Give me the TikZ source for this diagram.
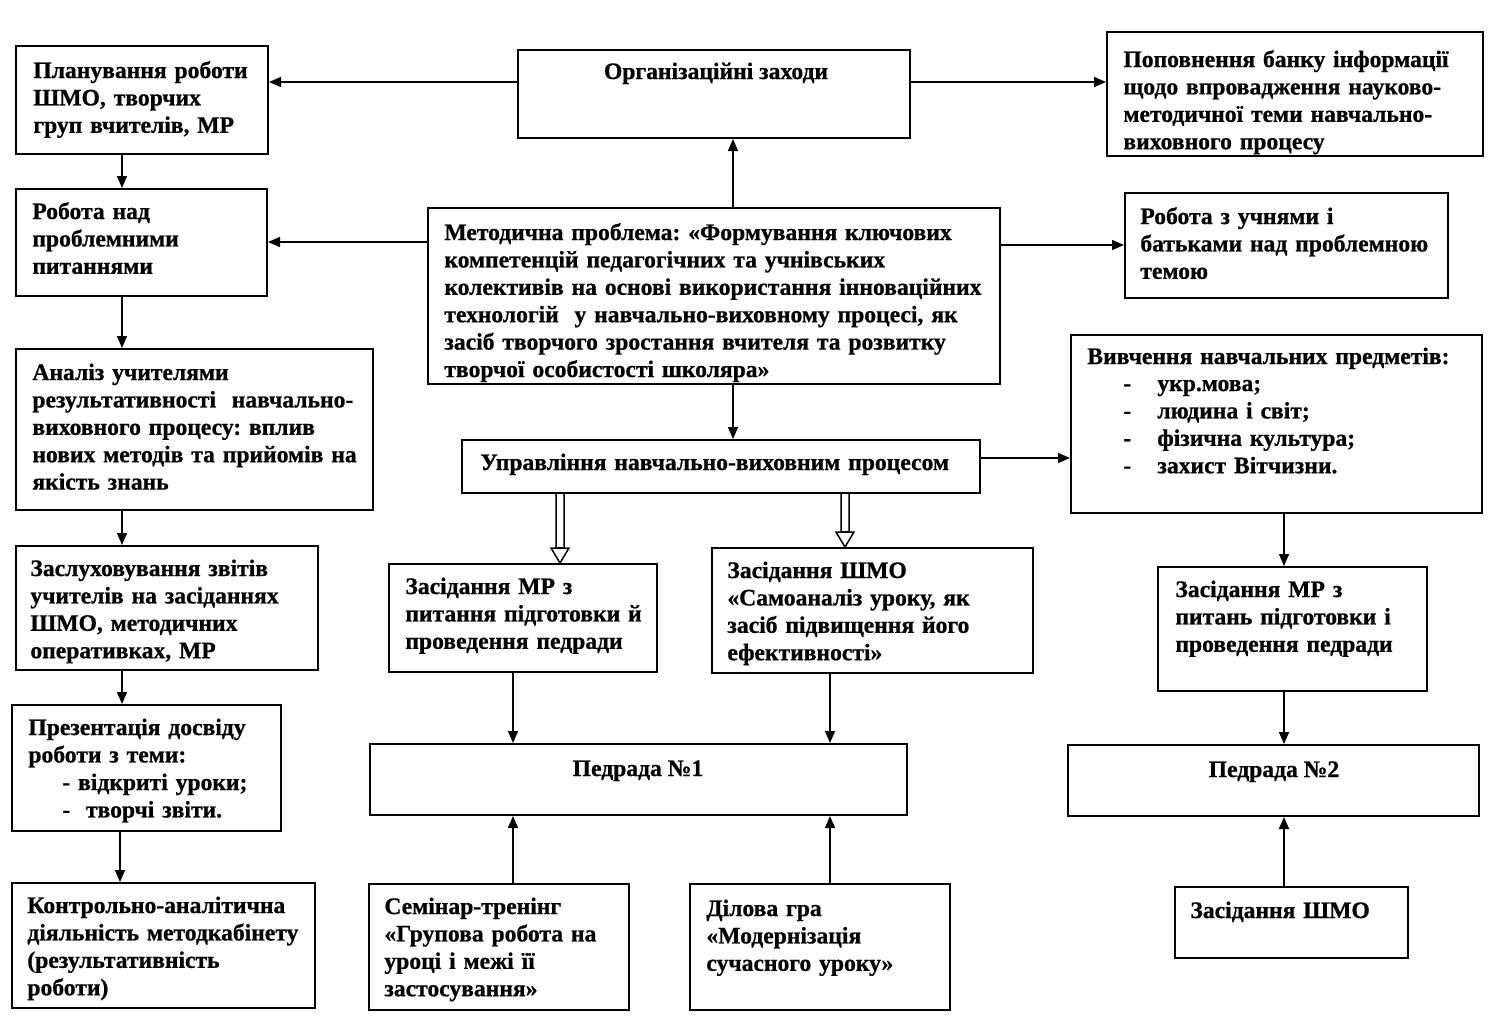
\documentclass[tikz,border=0pt]{standalone}
\usepackage{fontspec}
\setmainfont[BoldFeatures={FakeBold=0.8}]{Liberation Serif}
\usetikzlibrary{arrows.meta,fit,calc}
\frenchspacing
\begin{document}
\begin{tikzpicture}[x=0.5pt,y=-0.5pt,
  box/.style={draw, line width=1pt, inner sep=0pt},
  txt/.style={anchor=base west, inner sep=0pt, text width=300pt, align=left,
    font=\bfseries\fontsize{11.8pt}{13.7pt}\selectfont\frenchspacing},
  ctxt/.style={anchor=base, inner sep=0pt, font=\bfseries\fontsize{11.8pt}{13.7pt}\selectfont},
  arr/.style={line width=0.75pt, -{Triangle[length=6pt,width=5pt]}},
  hol/.style={line width=0.75pt, line join=miter}]
\useasboundingbox (0,0) rectangle (1500,1029);
% boxes
\node[box, fit={(16,46) (268,154)}] (plan) {};
\node[box, fit={(518,50) (910,138)}] (org) {};
\node[box, fit={(1107,32) (1483,156)}] (popov) {};
\node[box, fit={(16,189) (267,296)}] (robnad) {};
\node[box, fit={(428,208) (1000,384)}] (metod) {};
\node[box, fit={(1125,193) (1448,298)}] (robuch) {};
\node[box, fit={(16,349) (373,510)}] (analiz) {};
\node[box, fit={(462,440) (980,493)}] (upr) {};
\node[box, fit={(1071,335) (1482,513)}] (vyv) {};
\node[box, fit={(389,564) (657,672)}] (zasmr) {};
\node[box, fit={(712,548) (1033,673)}] (zasshmo) {};
\node[box, fit={(1158,567) (1427,691)}] (zasmr2) {};
\node[box, fit={(370,744) (907,815)}] (ped1) {};
\node[box, fit={(1068,745) (1479,816)}] (ped2) {};
\node[box, fit={(16,546) (318,670)}] (zasl) {};
\node[box, fit={(12,705) (281,831)}] (prez) {};
\node[box, fit={(12,883) (315,1008)}] (kontr) {};
\node[box, fit={(369,884) (629,1010)}] (semin) {};
\node[box, fit={(690,884) (950,1010)}] (dilova) {};
\node[box, fit={(1175,887) (1408,958)}] (shmo2) {};
% texts
\node[txt] (tplan) at (33,78) {Планування роботи\\ШМО, творчих\\груп вчителів, МР};
\node[ctxt] (torg) at (716,79) {Організаційні заходи};
\node[txt] (tpopov) at (1123,67) {Поповнення банку інформації\\щодо впровадження науково-\\методичної теми навчально-\\виховного процесу};
\node[txt] (trobnad) at (32,219) {Робота над\\проблемними\\питаннями};
\node[txt] (tmetod) at (444,240) {Методична проблема: «Формування ключових\\компетенцій педагогічних та учнівських\\колективів на основі використання інноваційних\\технологій \ у навчально-виховному процесі, як\\засіб творчого зростання вчителя та розвитку\\творчої особистості школяра»};
\node[txt] (trobuch) at (1140,224) {Робота з учнями і\\батьками над проблемною\\темою};
\node[txt] (tanaliz) at (32,380) {Аналіз учителями\\результативності \ навчально-\\виховного процесу: вплив\\нових методів та прийомів на\\якість знань};
\node[txt] (tupr) at (480,470) {Управління навчально-виховним процесом};
\node[txt] (tvyv) at (1087,364) {Вивчення навчальних предметів:};
\node[txt] (tvyvd) at (1123,391) {-\\-\\-\\-};
\node[txt] (tvyvi) at (1157,391) {укр.мова;\\людина і світ;\\фізична культура;\\захист Вітчизни.};
\node[txt] (tzasmr) at (405,594) {Засідання МР з\\питання підготовки й\\проведення педради};
\node[txt] (tzasshmo) at (727,578) {Засідання ШМО\\«Самоаналіз уроку, як\\засіб підвищення його\\ефективності»};
\node[txt] (tzasmr2) at (1175,597) {Засідання МР з\\питань підготовки і\\проведення педради};
\node[ctxt] (tped1) at (638,776) {Педрада №1};
\node[ctxt] (tped2) at (1274,777) {Педрада №2};
\node[txt] (tzasl) at (30,576) {Заслуховування звітів\\учителів на засіданнях\\ШМО, методичних\\оперативках, МР};
\node[txt] (tprez) at (28,735) {Презентація досвіду\\роботи з теми:};
\node[txt] (tprezi) at (62,790) {- відкриті уроки;\\- \ творчі звіти.};
\node[txt] (tkontr) at (27,913) {Контрольно-аналітична\\діяльність методкабінету\\(результативність\\роботи)};
\node[txt] (tsemin) at (384,914) {Семінар-тренінг\\«Групова робота на\\уроці і межі її\\застосування»};
\node[txt] (tdilova) at (706,916) {Ділова гра\\«Модернізація\\сучасного уроку»};
\node[txt] (tshmo2) at (1190,918) {Засідання ШМО};
% connectors
\draw[arr] (org.west |- 0,82) -- (plan.east |- 0,82);
\draw[arr] (org.east |- 0,82) -- (popov.west |- 0,82);
\draw[arr] (metod.north -| 733,0) -- (org.south -| 733,0);
\draw[arr] (metod.west |- 0,242) -- (robnad.east |- 0,242);
\draw[arr] (metod.east |- 0,245) -- (robuch.west |- 0,245);
\draw[arr] (metod.south -| 733,0) -- (upr.north -| 733,0);
\draw[arr] (upr.east |- 0,458) -- (vyv.west |- 0,458);
\draw[arr] (plan.south -| 122,0) -- (robnad.north -| 122,0);
\draw[arr] (robnad.south -| 122,0) -- (analiz.north -| 122,0);
\draw[arr] (analiz.south -| 122,0) -- (zasl.north -| 122,0);
\draw[arr] (zasl.south -| 122,0) -- (prez.north -| 122,0);
\draw[arr] (prez.south -| 120,0) -- (kontr.north -| 120,0);
\draw[arr] (vyv.south -| 1284,0) -- (zasmr2.north -| 1284,0);
\draw[arr] (zasmr2.south -| 1284,0) -- (ped2.north -| 1284,0);
\draw[arr] (shmo2.north -| 1284,0) -- (ped2.south -| 1284,0);
\draw[arr] (zasmr.south -| 513,0) -- (ped1.north -| 513,0);
\draw[arr] (zasshmo.south -| 830,0) -- (ped1.north -| 830,0);
\draw[arr] (semin.north -| 513,0) -- (ped1.south -| 513,0);
\draw[arr] (dilova.north -| 830,0) -- (ped1.south -| 830,0);
% hollow arrows
\coordinate (h1) at (upr.south -| 560,0);
\coordinate (h2) at (upr.south -| 845,0);
\draw[hol] (h1) ++(-4,0) -- ++(0,54) -- ++(-5,0) -- (zasmr.north -| 560,0) -- ($(h1)+(9,54)$) -- ($(h1)+(4,54)$) -- ($(h1)+(4,0)$);
\draw[hol] ($(h1)+(-4,54)$) -- ($(h1)+(4,54)$);
\draw[hol] (h2) ++(-4,0) -- ++(0,38) -- ++(-5,0) -- (zasshmo.north -| 845,0) -- ($(h2)+(9,38)$) -- ($(h2)+(4,38)$) -- ($(h2)+(4,0)$);
\draw[hol] ($(h2)+(-4,38)$) -- ($(h2)+(4,38)$);
\end{tikzpicture}
\end{document}
